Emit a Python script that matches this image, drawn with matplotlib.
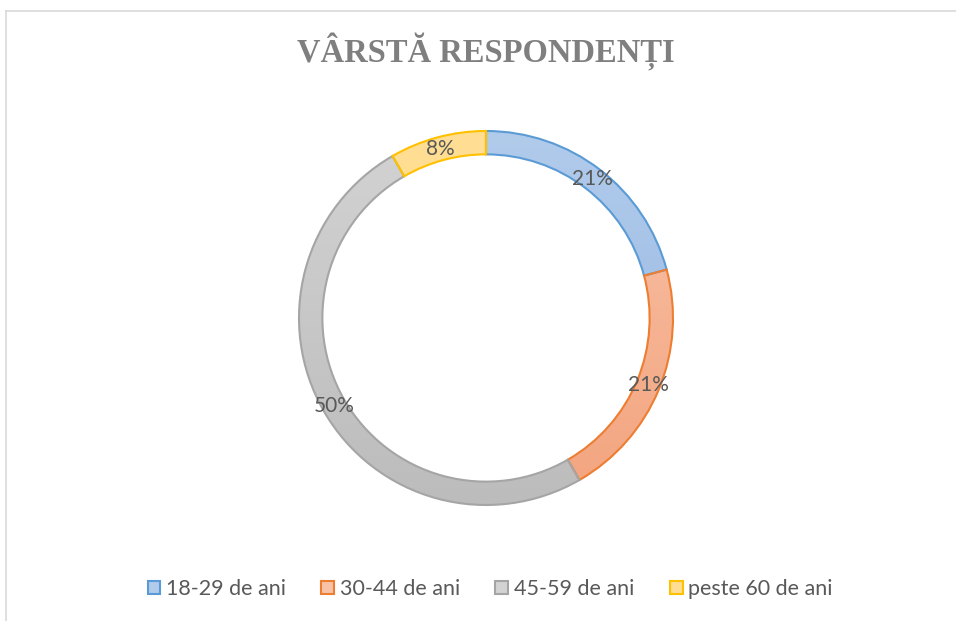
import numpy as np
import matplotlib
matplotlib.use("Agg")
import matplotlib.pyplot as plt
from matplotlib.patches import Rectangle
from matplotlib.lines import Line2D
from matplotlib.colors import LinearSegmentedColormap

# data
categories = ["18-29 de ani", "30-44 de ani", "45-59 de ani", "peste 60 de ani"]
counts = [5, 5, 12, 2]
title = "VÂRSTĂ RESPONDENȚI"

# gradient fills (top colour, bottom colour) and outline colours
fill_top = ["#B1CBEB", "#F8C2A8", "#D3D3D3", "#FFDE94"]
fill_bot = ["#93B6E2", "#F3A47E", "#BCBCBC", "#FFD57D"]
edges = ["#5B9BD5", "#ED7D31", "#A5A5A5", "#FFC000"]

W, H = 956, 621
fig = plt.figure(figsize=(W / 100, H / 100), dpi=100)

# donut centre (486, 318) px, radius 187 px
cx, cy, R = 486, 318, 187
half = 200
ax = fig.add_axes([(cx - half) / W, (H - cy - half) / H, 2 * half / W, 2 * half / H])
lim = half / R

ring = 0.125
wedges, texts, autotexts = ax.pie(
    counts, startangle=90, counterclock=False, radius=1.0,
    colors=fill_bot, autopct="%.0f%%", pctdistance=1 - ring / 2,
    wedgeprops=dict(width=ring, linewidth=1.5),
    textprops=dict(color="#595959", fontsize=15, family=["Lato", "DejaVu Sans"]),
)

for w, top, bot, ec, t in zip(wedges, fill_top, fill_bot, edges, autotexts):
    w.set_edgecolor(ec)
    w.set_facecolor("none")
    w.set_zorder(3)
    cmap = LinearSegmentedColormap.from_list("g", [bot, top])
    grad = np.linspace(0, 1, 256).reshape(-1, 1)
    fill = ax.imshow(grad, cmap=cmap, origin="lower", extent=[-1, 1, -1, 1],
                     aspect="auto", zorder=2, interpolation="bilinear")
    fill.set_clip_path(w)
    t.set_zorder(5)

ax.set_xlim(-lim, lim)
ax.set_ylim(-lim, lim)
ax.set_aspect("equal")
ax.axis("off")

fig.text(486 / W, 1 - 51 / H, title, ha="center", va="center",
         fontsize=23.5, fontweight="bold", color="#7F7F7F",
         family=["Liberation Serif", "DejaVu Serif"])

# legend
handles = [Rectangle((0, 0), 1, 1, facecolor=c, edgecolor=e, linewidth=1.5)
           for c, e in zip(fill_top, edges)]
fig.legend(handles, categories, loc="center", bbox_to_anchor=(490 / W, 1 - 589 / H),
           ncol=4, frameon=False, handlelength=0.6, handleheight=0.6,
           handletextpad=0.25, columnspacing=1.65,
           prop=dict(family=["Lato", "DejaVu Sans"], size=15.5), labelcolor="#595959")

# chart border (top and left visible)
fig.add_artist(Line2D([5.5 / W, 1], [1 - 11 / H, 1 - 11 / H], color="#D9D9D9", lw=1.2,
                      transform=fig.transFigure))
fig.add_artist(Line2D([5.5 / W, 5.5 / W], [0, 1 - 11 / H], color="#D9D9D9", lw=1.2,
                      transform=fig.transFigure))

fig.savefig("out.png", dpi=100, facecolor="white")
